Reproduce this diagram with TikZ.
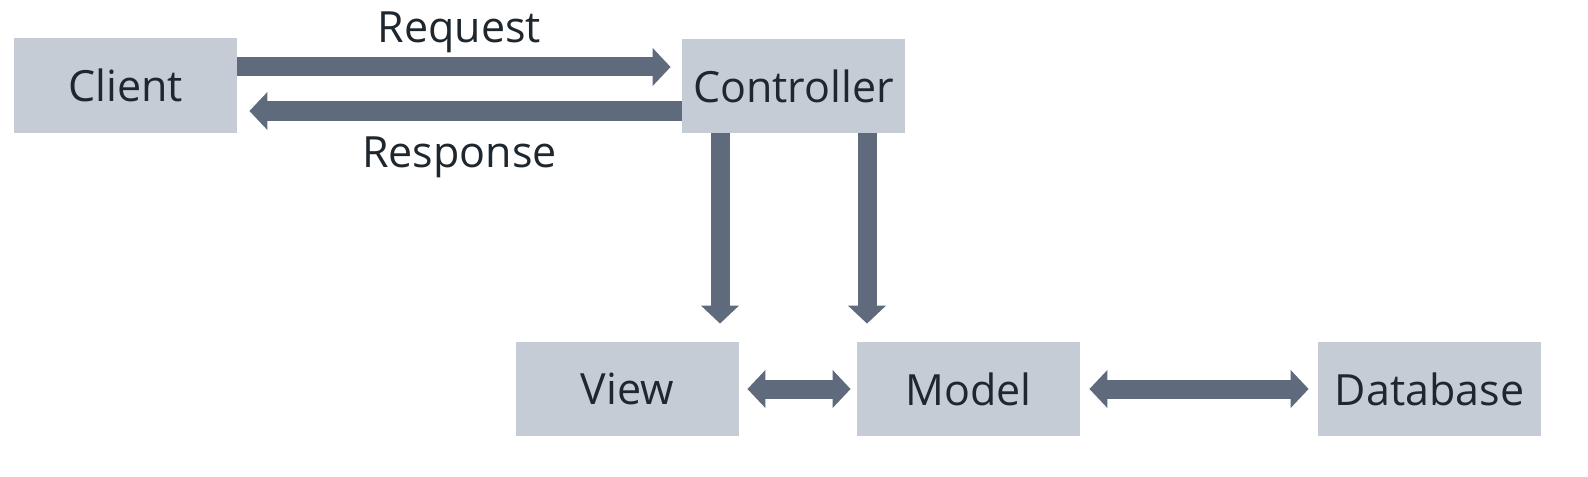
\documentclass[tikz,border=0pt]{standalone}
\usepackage{fontspec}
\setmainfont{Open Sans}
\usetikzlibrary{arrows.meta}
\definecolor{boxfill}{HTML}{C5CCD5}
\definecolor{flowcol}{HTML}{5F6B7C}
\definecolor{textcol}{HTML}{1F272E}
\begin{document}
\begin{tikzpicture}[x=0.5pt,y=-0.5pt,
  part/.style={rectangle,fill=boxfill,minimum width=111.5pt,minimum height=47pt,
    inner sep=0pt,text=textcol,font=\fontsize{21.5}{25}\selectfont},
  flow/.style={draw=flowcol,line width=9.5pt,
    -{Triangle[width=18.5pt,length=9pt]},shorten >=5.5pt},
  both/.style={draw=flowcol,line width=9.5pt,
    {Triangle[width=18.5pt,length=9pt]}-{Triangle[width=18.5pt,length=9pt]},
    shorten >=4.5pt,shorten <=4.5pt},
  lbl/.style={text=textcol,font=\fontsize{21.5}{25}\selectfont,inner sep=0pt,anchor=base}]
\useasboundingbox (0,0) rectangle (1588,476);
\node [part] (client) at (125.5,85.5) {Client};
\node [part] (ctrl) at (793.5,86) {Controller};
\node [part] (view) at (627.5,389) {View};
\node [part] (model) at (968.5,389) {Model};
\node [part] (db) at (1429.5,389) {Database};
% client <-> controller
\draw [flow] ([yshift=9.25pt]client.east) -- ([yshift=9.5pt]ctrl.west)
  node [lbl,midway,yshift=12.25pt] (req) {Request};
\draw [flow,shorten >=6pt] ([yshift=-12.5pt]ctrl.west) -- ([yshift=-12.75pt]client.east)
  node [lbl,midway,yshift=-28pt] (resp) {Response};
% controller -> view, model
\draw [flow,shorten >=9pt] ([xshift=-36.75pt]ctrl.south) coordinate (cv) -- (cv |- view.north);
\draw [flow,shorten >=9pt] ([xshift=36.75pt]ctrl.south) coordinate (cm) -- (cm |- model.north);
% view <-> model <-> database
\draw [both,shorten <=4pt,shorten >=3pt] (view) -- (model);
\draw [both] (model) -- (db);
\end{tikzpicture}
\end{document}
